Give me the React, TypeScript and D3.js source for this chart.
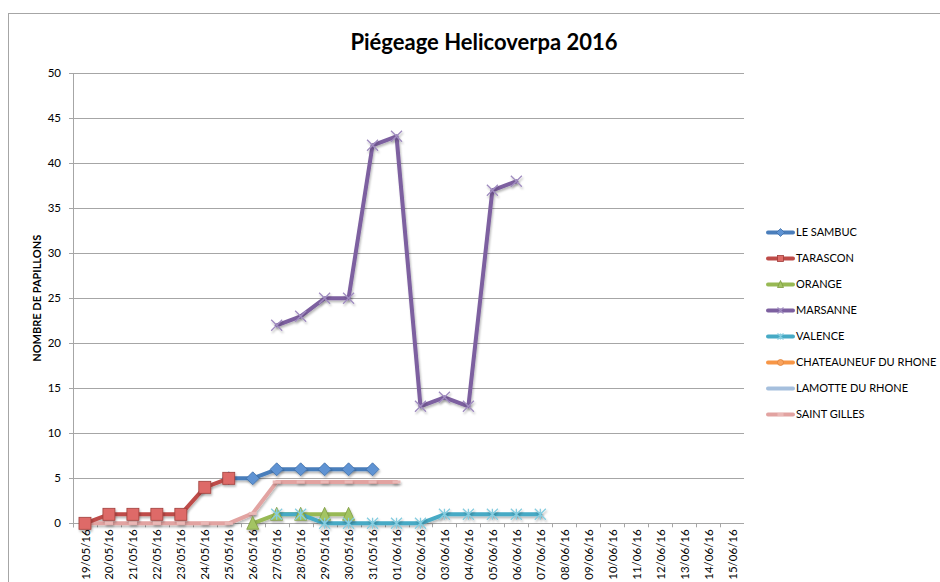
import React, { useEffect } from "react";
import * as d3 from "d3";

const dates = [
  "19/05/16", "20/05/16", "21/05/16", "22/05/16", "23/05/16", "24/05/16", "25/05/16",
  "26/05/16", "27/05/16", "28/05/16", "29/05/16", "30/05/16", "31/05/16", "01/06/16",
  "02/06/16", "03/06/16", "04/06/16", "05/06/16", "06/06/16", "07/06/16", "08/06/16",
  "09/06/16", "10/06/16", "11/06/16", "12/06/16", "13/06/16", "14/06/16", "15/06/16",
];

const N = null;
const leSambuc = [N, N, N, N, N, N, 5, 5, 6, 6, 6, 6, 6, N, N, N, N, N, N, N, N, N, N, N, N, N, N, N];
const tarascon = [0, 1, 1, 1, 1, 4, 5, N, N, N, N, N, N, N, N, N, N, N, N, N, N, N, N, N, N, N, N, N];
const orange = [N, N, N, N, N, N, N, 0, 1, 1, 1, 1, N, N, N, N, N, N, N, N, N, N, N, N, N, N, N, N];
const marsanne = [N, N, N, N, N, N, N, N, 22, 23, 25, 25, 42, 43, 13, 14, 13, 37, 38, N, N, N, N, N, N, N, N, N];
const valence = [N, N, N, N, N, N, N, N, 1, 1, 0, 0, 0, 0, 0, 1, 1, 1, 1, 1, N, N, N, N, N, N, N, N];
const chateauneuf: (number | null)[] = dates.map(() => null);
const lamotte: (number | null)[] = dates.map(() => null);
const saintGilles = [0, 0, 0, 0, 0, 0, 0, 1.1, 4.6, 4.6, 4.6, 4.6, 4.6, 4.6, N, N, N, N, N, N, N, N, N, N, N, N, N, N];

const yTicks = [0, 5, 10, 15, 20, 25, 30, 35, 40, 45, 50];

type Marker = "diamond" | "square" | "triangle" | "x" | "star" | "circle" | "dash" | "none";

const series: { name: string; values: (number | null)[]; color: string; fill: string; stroke: string; marker: Marker }[] = [
  { name: "LE SAMBUC", values: leSambuc, color: "#4A7EBB", fill: "#5E93D3", stroke: "#3F6FA8", marker: "diamond" },
  { name: "TARASCON", values: tarascon, color: "#BE4B48", fill: "#DE6B67", stroke: "#A03F3C", marker: "square" },
  { name: "ORANGE", values: orange, color: "#98B954", fill: "#A3C463", stroke: "#7D9B40", marker: "triangle" },
  { name: "MARSANNE", values: marsanne, color: "#7D60A0", fill: "none", stroke: "#A08CC0", marker: "x" },
  { name: "VALENCE", values: valence, color: "#46AAC5", fill: "none", stroke: "#86CDE0", marker: "star" },
  { name: "CHATEAUNEUF DU RHONE", values: chateauneuf, color: "#F79646", fill: "#F9A35E", stroke: "#E0823A", marker: "circle" },
  { name: "LAMOTTE DU RHONE", values: lamotte, color: "#A5BFDD", fill: "#A5BFDD", stroke: "#A5BFDD", marker: "dash" },
  { name: "SAINT GILLES", values: saintGilles, color: "#E2A3A1", fill: "none", stroke: "#EAB8B6", marker: "dash" },
];

const FONT = "Lato, 'Liberation Sans', sans-serif";

function MarkerShape({ type, x, y, s, fill, stroke }: { type: Marker; x: number; y: number; s: number; fill: string; stroke: string }) {
  const h = s / 2;
  switch (type) {
    case "diamond":
      return <path d={`M${x},${y - h - 1}L${x + h + 1},${y}L${x},${y + h + 1}L${x - h - 1},${y}Z`} fill={fill} stroke={stroke} strokeWidth={0.8} />;
    case "square":
      return <rect x={x - h} y={y - h} width={s} height={s} fill={fill} stroke={stroke} strokeWidth={0.8} />;
    case "triangle":
      return <path d={`M${x},${y - h - 1}L${x + h},${y + h}L${x - h},${y + h}Z`} fill={fill} stroke={stroke} strokeWidth={0.8} />;
    case "x":
      return (
        <path d={`M${x - h},${y - h}L${x + h},${y + h}M${x - h},${y + h}L${x + h},${y - h}`} stroke={stroke} strokeWidth={1.3} fill="none" />
      );
    case "star":
      return (
        <path
          d={`M${x - h},${y - h}L${x + h},${y + h}M${x - h},${y + h}L${x + h},${y - h}M${x},${y - h}L${x},${y + h}`}
          stroke={stroke}
          strokeWidth={1.3}
          fill="none"
        />
      );
    case "circle":
      return <circle cx={x} cy={y} r={h} fill={fill} stroke={stroke} strokeWidth={0.8} />;
    case "dash":
      return <path d={`M${x - h},${y}L${x + h},${y}`} stroke={stroke} strokeWidth={3} fill="none" />;
    default:
      return null;
  }
}

export default function App() {
  useEffect(() => {
    document.body.style.margin = "0";
  }, []);

  const W = 940;
  const H = 582;
  const plotLeft = 73;
  const plotRight = 744;
  const plotTop = 73.3;
  const plotBottom = 523.3;

  const x = d3.scaleBand<string>().domain(dates).range([plotLeft, plotRight]).padding(0);
  const cx = (d: string) => (x(d) as number) + x.bandwidth() / 2;
  const y = d3.scaleLinear().domain([0, 50]).range([plotBottom, plotTop]);

  const line = d3
    .line<{ d: string; v: number | null }>()
    .defined((p) => p.v != null)
    .x((p) => cx(p.d))
    .y((p) => y(p.v as number));

  const drawOrder = [7, 0, 1, 2, 3, 4, 5, 6];

  const legendX = 766;
  const legendY0 = 232.5;
  const legendStep = 26;

  const markerSize = (m: Marker) => (m === "square" ? 12 : m === "dash" ? 8 : m === "triangle" ? 12 : 11);

  return (
    <>
      <style>{`body{margin:0}`}</style>
      <svg width={W} height={H} style={{ display: "block", background: "#fff" }} fontFamily={FONT}>
        <defs>
          <filter id="shadow" x="-10%" y="-10%" width="120%" height="130%">
            <feDropShadow dx="1" dy="2" stdDeviation="1.2" floodColor="#000" floodOpacity="0.28" />
          </filter>
        </defs>
        <rect x={8.5} y={13.5} width={W} height={H} fill="#fff" stroke="#A6A6A6" strokeWidth={1} />

        <text x={484} y={50} textAnchor="middle" fontSize={22} fontWeight={700} fill="#000">
          Piégeage Helicoverpa 2016
        </text>

        {/* gridlines */}
        {yTicks.map((t) => (
          <line key={t} x1={plotLeft - 4} x2={plotRight} y1={Math.round(y(t)) + 0.5} y2={Math.round(y(t)) + 0.5} stroke="#A6A6A6" strokeWidth={1} />
        ))}
        <line x1={plotLeft + 0.5} x2={plotLeft + 0.5} y1={plotTop} y2={plotBottom + 4} stroke="#A6A6A6" strokeWidth={1} />
        {dates.map((d) => (
          <line key={"tk" + d} x1={Math.round(x(d) as number) + 0.5} x2={Math.round(x(d) as number) + 0.5} y1={plotBottom} y2={plotBottom + 4} stroke="#A6A6A6" strokeWidth={1} />
        ))}

        {/* y tick labels */}
        {yTicks.map((t) => (
          <text key={"yl" + t} x={61} y={y(t)} dy="0.35em" textAnchor="end" fontSize={11.5} fill="#000">
            {t}
          </text>
        ))}

        <text
          transform={`translate(37,${(plotTop + plotBottom) / 2}) rotate(-90)`}
          textAnchor="middle"
          fontSize={11}
          fontWeight={700}
          fill="#000"
          dy="0.35em"
        >
          NOMBRE DE PAPILLONS
        </text>

        {/* x labels */}
        {dates.map((d) => (
          <text
            key={"xl" + d}
            transform={`translate(${cx(d) + 0.5},${plotBottom + 6}) rotate(-90)`}
            textAnchor="end"
            dy="0.35em"
            fontSize={11.5}
            fill="#000"
          >
            {d}
          </text>
        ))}

        {/* lines */}
        <g filter="url(#shadow)">
          {drawOrder.map((i) => {
            const s = series[i];
            const pts = dates.map((d, k) => ({ d, v: s.values[k] }));
            const p = line(pts);
            return p ? <path key={"ln" + s.name} d={p} fill="none" stroke={s.color} strokeWidth={4} strokeLinejoin="round" strokeLinecap="round" /> : null;
          })}
        </g>

        {/* markers */}
        <g filter="url(#shadow)">
          {drawOrder.map((i) => {
            const s = series[i];
            return dates.map((d, k) =>
              s.values[k] == null ? null : (
                <MarkerShape key={s.name + d} type={s.marker} x={cx(d)} y={y(s.values[k] as number)} s={markerSize(s.marker)} fill={s.fill} stroke={s.stroke} />
              )
            );
          })}
        </g>

        {/* legend */}
        {series.map((s, i) => {
          const ly = legendY0 + i * legendStep;
          return (
            <g key={"lg" + s.name}>
              <line x1={legendX + 2} x2={legendX + 27} y1={ly} y2={ly} stroke={s.color} strokeWidth={4} strokeLinecap="round" />
              <MarkerShape type={s.marker} x={legendX + 14.5} y={ly} s={6} fill={s.fill} stroke={s.stroke} />
              <text x={legendX + 30} y={ly} dy="0.35em" fontSize={11} fill="#000">
                {s.name}
              </text>
            </g>
          );
        })}
      </svg>
    </>
  );
}
